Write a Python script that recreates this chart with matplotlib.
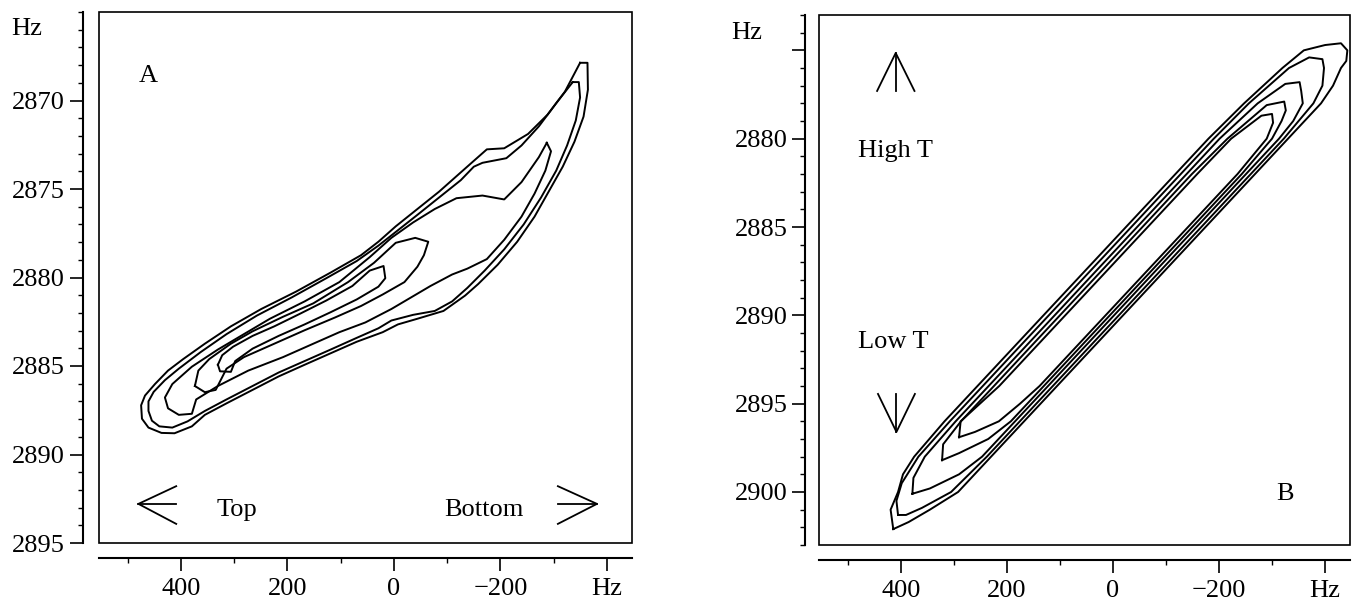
import matplotlib
matplotlib.use("Agg")
import matplotlib.pyplot as plt
from matplotlib.ticker import FixedLocator, FixedFormatter, MultipleLocator
from matplotlib.patches import Rectangle

plt.rcParams['font.family'] = ['Liberation Serif', 'DejaVu Serif']

# ---------------- data (Hz, Hz) ----------------
x_ticks = [400, 200, 0, -200, -400]
x_ticklabels = ['400', '200', '0', '\u2212200', 'Hz']
x_minor = [500, 300, 100, -100, -300]

A_yticks = [2870, 2875, 2880, 2885, 2890, 2895]
A_yticklabels = ['2870', '2875', '2880', '2885', '2890', '2895']
B_yticks = [2875, 2880, 2885, 2890, 2895, 2900]
B_yticklabels = ['', '2880', '2885', '2890', '2895', '2900']

A_c1 = [(-349.5, 2867.87), (-363.4, 2867.87), (-364.2, 2869.39), (-356.0, 2870.91), (-338.9, 2872.33),
        (-316.9, 2873.74), (-292.5, 2875.04), (-264.0, 2876.56), (-231.4, 2877.98), (-194.7, 2879.28),
        (-158.1, 2880.37), (-133.6, 2881.02), (-92.9, 2881.89), (-44.0, 2882.33), (-7.4, 2882.65),
        (21.2, 2883.09), (70.0, 2883.63), (118.9, 2884.28), (167.8, 2884.93), (216.7, 2885.59),
        (265.6, 2886.35), (314.5, 2887.11), (355.2, 2887.76), (379.6, 2888.41), (412.2, 2888.80),
        (436.7, 2888.78), (461.1, 2888.48), (473.3, 2887.98), (474.9, 2887.22), (467.6, 2886.67),
        (448.9, 2886.02), (424.4, 2885.26), (395.9, 2884.61), (355.2, 2883.74), (306.3, 2882.76),
        (249.3, 2881.78), (184.1, 2880.80), (118.9, 2879.72), (61.9, 2878.74), (29.3, 2877.98),
        (-3.3, 2877.11), (-44.0, 2876.13), (-84.7, 2875.15), (-125.5, 2874.06), (-149.9, 2873.41),
        (-174.4, 2872.76), (-207.0, 2872.70), (-251.8, 2871.89), (-288.4, 2870.80), (-321.0, 2869.50)]
A_c2 = [(-335.7, 2868.96), (-347.1, 2868.96), (-349.5, 2869.83), (-341.4, 2871.13), (-325.1, 2872.54),
        (-304.7, 2873.96), (-276.2, 2875.48), (-243.6, 2877.00), (-207.0, 2878.41), (-170.3, 2879.61),
        (-137.7, 2880.59), (-109.2, 2881.35), (-76.6, 2881.89), (-35.9, 2882.11), (4.9, 2882.43),
        (29.3, 2882.87), (70.0, 2883.41), (118.9, 2884.07), (167.8, 2884.72), (216.7, 2885.37),
        (265.6, 2886.13), (314.5, 2886.89), (355.2, 2887.54), (387.8, 2888.13), (416.3, 2888.48),
        (440.7, 2888.41), (454.6, 2888.09), (461.1, 2887.54), (461.1, 2887.00), (451.3, 2886.46),
        (430.2, 2885.80), (404.1, 2885.15), (363.3, 2884.22), (314.5, 2883.20), (257.4, 2882.15),
        (192.3, 2881.13), (127.1, 2880.04), (70.0, 2879.07), (29.3, 2878.20), (-7.4, 2877.33),
        (-44.0, 2876.46), (-84.7, 2875.48), (-125.5, 2874.50), (-149.9, 2873.74), (-166.2, 2873.52),
        (-211.0, 2873.26), (-239.5, 2872.54), (-272.1, 2871.46), (-304.7, 2870.15)]
A_c3 = [(-287.0, 2872.39), (-294.9, 2872.87), (-284.3, 2873.96), (-264.0, 2875.26), (-239.5, 2876.56),
        (-207.0, 2877.87), (-174.4, 2878.96), (-137.7, 2879.50), (-109.2, 2879.83), (-68.5, 2880.48),
        (-31.8, 2881.13), (4.9, 2881.78), (53.8, 2882.54), (102.6, 2883.09), (151.5, 2883.74),
        (208.5, 2884.50), (273.7, 2885.26), (330.7, 2886.13), (371.5, 2886.89), (379.6, 2887.70),
        (404.1, 2887.76), (424.4, 2887.39), (430.2, 2886.78), (416.3, 2886.02), (379.6, 2885.04),
        (330.7, 2884.07), (281.9, 2883.20), (233.0, 2882.33), (167.8, 2881.35), (102.6, 2880.26),
        (45.6, 2878.85), (4.9, 2877.76), (-35.9, 2876.89), (-76.6, 2876.13), (-117.3, 2875.52),
        (-166.2, 2875.37), (-207.0, 2875.59), (-239.5, 2874.61), (-272.1, 2873.20)]
A_c4 = [(373.9, 2886.13), (367.4, 2885.26), (347.0, 2884.61), (306.3, 2883.74), (265.6, 2883.04),
        (208.5, 2882.22), (151.5, 2881.46), (86.3, 2880.26), (37.5, 2879.17), (-3.3, 2878.04),
        (-39.9, 2877.76), (-64.4, 2877.98), (-56.2, 2878.74), (-44.0, 2879.39), (-19.6, 2880.26),
        (21.2, 2880.96), (61.9, 2881.61), (110.8, 2882.26), (167.8, 2882.98), (224.8, 2883.74),
        (281.9, 2884.50), (314.5, 2885.15), (334.8, 2886.35), (355.2, 2886.48)]
A_c5 = [(330.7, 2884.93), (322.6, 2884.39), (302.2, 2883.91), (265.6, 2883.30), (224.8, 2882.76),
        (176.0, 2882.04), (127.1, 2881.30), (78.2, 2880.48), (45.6, 2879.61), (19.6, 2879.35),
        (16.3, 2880.04), (29.3, 2880.52), (70.0, 2881.24), (118.9, 2881.96), (167.8, 2882.65),
        (216.7, 2883.30), (265.6, 2884.02), (298.2, 2884.72), (306.3, 2885.33), (326.7, 2885.30)]

B_c1 = [(414, 2902.1), (419, 2901.0), (405, 2900.0), (395.7, 2899), (374.6, 2898), (317.4, 2896),
        (255.2, 2894), (193.0, 2892), (130.8, 2890), (68.6, 2888), (6.4, 2886), (-55.8, 2884),
        (-118.0, 2882), (-180.2, 2880), (-247.4, 2878), (-319.6, 2876), (-360, 2875.0), (-400, 2874.7),
        (-430, 2874.6), (-442, 2875.0), (-440, 2875.6), (-430, 2876), (-415, 2877), (-392.4, 2878),
        (-330.2, 2880), (-268.0, 2882), (-205.8, 2884), (-143.6, 2886), (-81.4, 2888), (-19.2, 2890),
        (43.0, 2892), (105.2, 2894), (167.4, 2896), (229.6, 2898), (291.8, 2900), (345, 2901),
        (385, 2901.7)]
B_c2 = [(405, 2901.3), (408, 2900.5), (398, 2899.5), (366.6, 2898), (307.4, 2896), (245.2, 2894),
        (183.0, 2892), (120.8, 2890), (58.6, 2888), (-3.6, 2886), (-65.8, 2884), (-128.0, 2882),
        (-190.2, 2880), (-256.4, 2878), (-332, 2876), (-370, 2875.4), (-395, 2875.5), (-398, 2876.0),
        (-395, 2877), (-378, 2878), (-322.2, 2880), (-260.0, 2882), (-197.8, 2884), (-135.6, 2886),
        (-73.4, 2888), (-11.2, 2890), (51.0, 2892), (113.2, 2894), (175.4, 2896), (237.6, 2898),
        (305, 2900), (360, 2900.9), (390, 2901.3)]
B_c3 = [(378, 2900.1), (376, 2899.2), (354.6, 2898), (296.4, 2896), (234.2, 2894), (172.0, 2892),
        (109.8, 2890), (47.6, 2888), (-14.6, 2886), (-76.8, 2884), (-139.0, 2882), (-201.2, 2880),
        (-273, 2878), (-325, 2876.9), (-352, 2876.8), (-355, 2877.3), (-358, 2878), (-340, 2879),
        (-313.2, 2880), (-251.0, 2882), (-188.8, 2884), (-126.6, 2886), (-64.4, 2888), (-2.2, 2890),
        (60.0, 2892), (122.2, 2894), (184.4, 2896), (246.6, 2898), (290, 2899), (345, 2899.8)]
B_c4 = [(322, 2898.2), (320, 2897.3), (286.4, 2896), (224.2, 2894), (162, 2892), (99.8, 2890),
        (37.6, 2888), (-24.6, 2886), (-86.8, 2884), (-149, 2882), (-216, 2880), (-290, 2878.1),
        (-323, 2877.9), (-326, 2878.4), (-318, 2879), (-300, 2880), (-243, 2882), (-180.8, 2884),
        (-118.6, 2886), (-56.4, 2888), (5.8, 2890), (68, 2892), (130.2, 2894), (192.4, 2896),
        (235, 2897), (290, 2897.8)]
B_c5 = [(290, 2896.9), (287, 2896.0), (214.2, 2894), (152.0, 2892), (89.8, 2890), (27.6, 2888),
        (-34.6, 2886), (-96.8, 2884), (-159, 2882), (-223, 2880), (-280, 2878.7), (-300, 2878.6),
        (-302, 2879.1), (-290, 2880), (-235, 2882), (-172.8, 2884), (-110.6, 2886), (-48.4, 2888),
        (13.8, 2890), (76.0, 2892), (138.2, 2894), (175, 2895), (215, 2896), (260, 2896.6)]

A_contours = [A_c1, A_c2, A_c3, A_c4, A_c5]
B_contours = [B_c1, B_c2, B_c3, B_c4, B_c5]

# ---------------- figure ----------------
W, H = 1353, 604
fig = plt.figure(figsize=(W / 100, H / 100), dpi=100)

axA = fig.add_axes([99 / W, (H - 543) / H, 533 / W, 531 / H])
axB = fig.add_axes([819 / W, (H - 545) / H, 531 / W, 530 / H])

LW = 1.4
FS = 19


def style(ax, ylim, yticks, ylabels, left_off, bottom_off, ypad):
    ax.set_xlim(554, -447)
    ax.set_ylim(*ylim)
    ax.spines['top'].set_visible(False)
    ax.spines['right'].set_visible(False)
    ax.spines['left'].set_position(('outward', left_off))
    ax.spines['bottom'].set_position(('outward', bottom_off))
    ax.spines['left'].set_linewidth(1.5)
    ax.spines['bottom'].set_linewidth(1.5)
    ax.add_patch(Rectangle((0, 0), 1, 1, transform=ax.transAxes, fill=False,
                           lw=1.2, ec='black', clip_on=False, zorder=5))
    ax.xaxis.set_major_locator(FixedLocator(x_ticks))
    ax.xaxis.set_major_formatter(FixedFormatter(x_ticklabels))
    ax.xaxis.set_minor_locator(FixedLocator(x_minor))
    ax.yaxis.set_major_locator(FixedLocator(yticks))
    ax.yaxis.set_major_formatter(FixedFormatter(ylabels))
    ax.yaxis.set_minor_locator(MultipleLocator(1))
    ax.tick_params(axis='both', which='major', length=9.5, width=1.2, labelsize=FS, direction='out')
    ax.tick_params(axis='both', which='minor', length=3.8, width=1.0, direction='out')
    ax.tick_params(axis='y', which='major', pad=ypad)
    ax.tick_params(axis='x', which='major', pad=5)


style(axA, (2895, 2865), A_yticks, A_yticklabels, 11.5, 10.8, 4.0)
style(axB, (2903, 2873), B_yticks, B_yticklabels, 10.0, 10.8, 3.0)

for ax, conts in ((axA, A_contours), (axB, B_contours)):
    for c in conts:
        xs = [p[0] for p in c] + [c[0][0]]
        ys = [p[1] for p in c] + [c[0][1]]
        ax.plot(xs, ys, color='black', lw=LW, solid_joinstyle='round')

# axis unit labels
axA.text(-0.135, 0.968, 'Hz', transform=axA.transAxes, fontsize=FS, ha='center', va='center')
axB.text(-0.1356, 0.966, 'Hz', transform=axB.transAxes, fontsize=FS, ha='center', va='center')

# panel A annotations
axA.text(462, 2868.6, 'A', fontsize=FS, ha='center', va='center')
axA.text(294.5, 2893.16, 'Top', fontsize=FS, ha='center', va='center')
axA.text(-169.6, 2893.16, 'Bottom', fontsize=FS, ha='center', va='center')
akw = dict(color='black', lw=1.3)
axA.plot([480, 409], [2892.79, 2892.79], **akw)
axA.plot([409, 480, 409], [2891.79, 2892.79, 2893.92], **akw)
axA.plot([-381.2, -307.8], [2892.79, 2892.79], **akw)
axA.plot([-307.8, -381.2, -307.8], [2891.79, 2892.79, 2893.92], **akw)

# panel B annotations
axB.text(409.4, 2880.7, 'High T', fontsize=FS, ha='center', va='center')
axB.text(414.5, 2891.5, 'Low T', fontsize=FS, ha='center', va='center')
axB.text(-324.5, 2900.1, 'B', fontsize=FS, ha='center', va='center')
axB.plot([409.4, 409.4], [2875.15, 2877.3], **akw)
axB.plot([444.5, 409.4, 374.0], [2877.3, 2875.15, 2877.3], **akw)
axB.plot([408.0, 408.0], [2896.6, 2894.45], **akw)
axB.plot([442.8, 408.0, 373.2], [2894.45, 2896.6, 2894.45], **akw)

fig.savefig('out.png', dpi=100)
